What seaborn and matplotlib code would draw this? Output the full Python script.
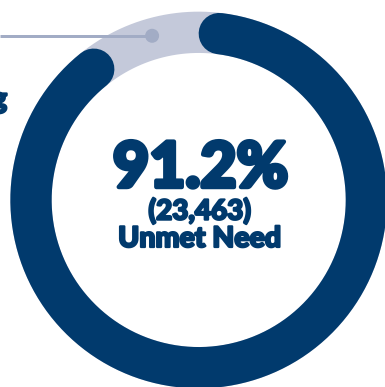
import numpy as np
import pandas as pd
import matplotlib
matplotlib.use("Agg")
import matplotlib.pyplot as plt
import matplotlib.patheffects as pe
import seaborn as sns

# --- data -------------------------------------------------------------
segments = ["Unmet Need", "Met Need"]
share_pct = [91.2, 8.8]
unmet_count = 23463
side_label = "Housing"

NAVY = "#013a6d"
TRACK = "#c4c9da"
CALLOUT = "#a2acc5"

sns.set_theme(style="white")
plt.rcParams["font.family"] = ["Lato", "DejaVu Sans"]

W, H, DPI = 385, 387, 100
fig = plt.figure(figsize=(W / DPI, H / DPI), dpi=DPI)
ax = fig.add_axes([0, 0, 1, 1])
ax.set_xlim(0, W)
ax.set_ylim(H, 0)
ax.set_aspect("equal")
ax.axis("off")

# ring geometry (pixel space, y pointing down)
cx, cy = 198.7, 200.0
r_mid = 167.7
ring_px = 41.3
ring_pt = ring_px * 72 / DPI


def arc(start_deg, end_deg, n=400):
    a = np.radians(np.linspace(start_deg, end_deg, n))
    return pd.DataFrame({"x": cx + r_mid * np.sin(a), "y": cy - r_mid * np.cos(a)})


# background track (seam placed under the value arc)
track = arc(180, 540)
sns.lineplot(data=track, x="x", y="y", ax=ax, sort=False, estimator=None,
             color=TRACK, linewidth=ring_pt, solid_capstyle="butt")

# value arc with rounded ends kept inside its share of the circle
cap_deg = np.degrees((ring_px / 2) / r_mid)
end_deg = share_pct[0] / 100 * 360
value_arc = arc(cap_deg, end_deg - cap_deg)
sns.lineplot(data=value_arc, x="x", y="y", ax=ax, sort=False, estimator=None,
             color=NAVY, linewidth=ring_pt, solid_capstyle="round")

# callout line and dot in the middle of the remaining gap
gap_mid = np.radians((end_deg + 360) / 2)
dot_r = r_mid + 3
dot = pd.DataFrame({"x": [cx + dot_r * np.sin(gap_mid)],
                    "y": [cy - dot_r * np.cos(gap_mid)]})
ax.plot([0, dot["x"][0]], [dot["y"][0], dot["y"][0]], color=CALLOUT,
        linewidth=3 * 72 / DPI, solid_capstyle="butt", zorder=3)
sns.scatterplot(data=dot, x="x", y="y", ax=ax, s=(14 * 72 / DPI) ** 2,
                color=CALLOUT, edgecolor="none", zorder=4)


def heavy(width):
    return [pe.withStroke(linewidth=width, foreground=NAVY)]


# centre labels
ax.text(cx + 2, 169, f"{share_pct[0]}%", ha="center", va="center",
        fontsize=45, fontweight="black", color=NAVY, path_effects=heavy(3.2))
ax.text(cx + 1, 211, f"({unmet_count:,})", ha="center", va="center",
        fontsize=20, fontweight="black", color=NAVY, path_effects=heavy(1.6))
ax.text(cx + 1, 239, segments[0], ha="center", va="center",
        fontsize=20.5, fontweight="black", color=NAVY, path_effects=heavy(1.6))

# side label running off the left edge
ax.text(7, 108, side_label, ha="right", va="baseline",
        fontsize=21, fontweight="black", color=NAVY, path_effects=heavy(1.6))

fig.savefig("out.png", dpi=DPI)
